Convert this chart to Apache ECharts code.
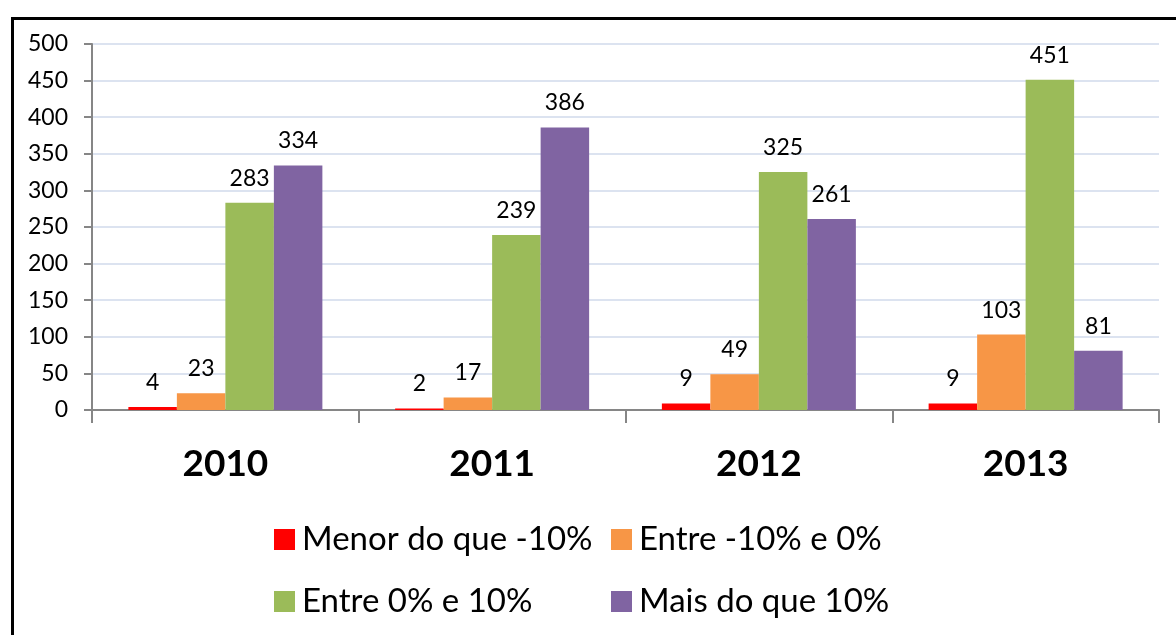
<!DOCTYPE html>
<html>
<head>
<meta charset="utf-8">
<script src="https://cdn.jsdelivr.net/npm/echarts@6/dist/echarts.min.js"></script>
<style>
html,body{margin:0;padding:0;background:#fff;}
#c{width:1176px;height:635px;}
</style>
</head>
<body>
<div id="c"></div>
<script>
const categories = ['2010', '2011', '2012', '2013'];
const seriesNames = ['Menor do que -10%', 'Entre -10% e 0%', 'Entre 0% e 10%', 'Mais do que 10%'];
const menor = [4, 2, 9, 9];
const entreNeg = [23, 17, 49, 103];
const entrePos = [283, 239, 325, 451];
const mais = [334, 386, 261, 81];
const yTicks = [0, 50, 100, 150, 200, 250, 300, 350, 400, 450, 500];

const colors = ['#FF0000', '#F79646', '#9BBB59', '#8064A2'];
const values = [menor, entreNeg, entrePos, mais];
const FONT = 'Lato';

const chart = echarts.init(document.getElementById('c'), null, {renderer: 'canvas'});
const series = seriesNames.map((n, i) => ({
  name: n,
  type: 'bar',
  data: values[i],
  barWidth: 48.5,
  barGap: '0%',
  itemStyle: {color: colors[i]},
  label: {
    show: true,
    position: 'top',
    distance: 13,
    color: '#000',
    fontFamily: FONT,
    fontSize: 23
  }
}));

chart.setOption({
  animation: false,
  backgroundColor: '#fff',
  color: colors,
  graphic: [{
    type: 'rect',
    left: 10, top: 16,
    shape: {width: 1300, height: 800},
    style: {fill: 'none', stroke: '#000', lineWidth: 3},
    silent: true
  }],
  grid: {left: 92, right: 17, top: 44, bottom: 225, containLabel: false},
  legend: [{
    data: [seriesNames[0], seriesNames[2]],
    orient: 'vertical',
    left: 269, top: 518,
    itemWidth: 21, itemHeight: 21, itemGap: 29,
    icon: 'rect',
    textStyle: {fontFamily: FONT, fontSize: 33, color: '#000', padding: [0, 0, 0, 2]}
  }, {
    data: [seriesNames[1], seriesNames[3]],
    orient: 'vertical',
    left: 606, top: 518,
    itemWidth: 21, itemHeight: 21, itemGap: 29,
    icon: 'rect',
    textStyle: {fontFamily: FONT, fontSize: 33, color: '#000', padding: [0, 0, 0, 2]}
  }],
  xAxis: {
    type: 'category',
    data: categories,
    axisLine: {lineStyle: {color: '#868686', width: 2}},
    axisTick: {show: true, length: 13, lineStyle: {color: '#868686', width: 2}},
    axisLabel: {fontFamily: FONT, fontSize: 37, fontWeight: 'bold', color: '#000', margin: 36}
  },
  yAxis: {
    type: 'value',
    min: yTicks[0], max: yTicks[yTicks.length - 1], interval: yTicks[1] - yTicks[0],
    axisLine: {show: true, lineStyle: {color: '#868686', width: 2}},
    axisTick: {show: true, length: 8, lineStyle: {color: '#868686', width: 2}},
    axisLabel: {fontFamily: FONT, fontSize: 23, color: '#000', margin: 24},
    splitLine: {lineStyle: {color: '#DCE3F0', width: 2}}
  },
  series: series
});
</script>
</body>
</html>
